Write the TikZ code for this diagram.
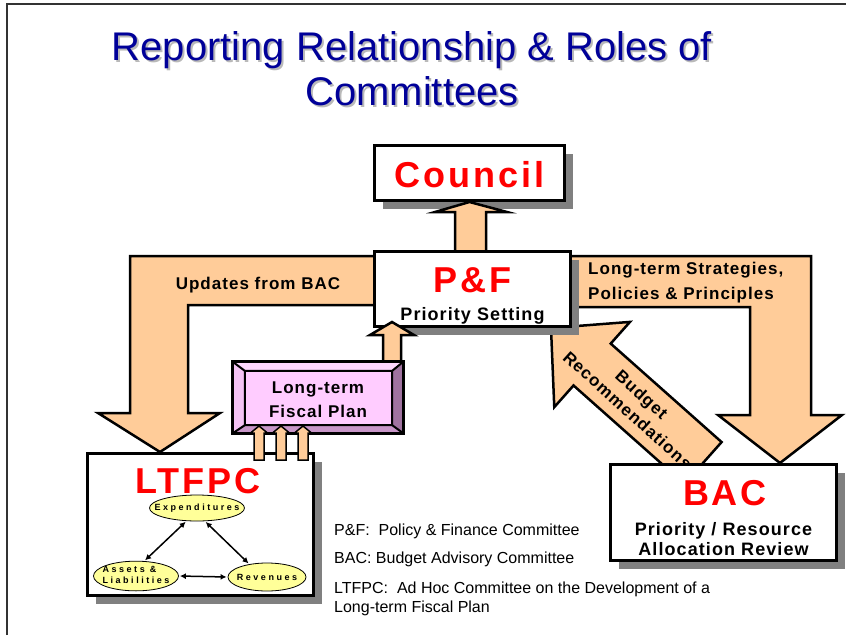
\documentclass[tikz,border=0pt]{standalone}
\usepackage{fontspec}
\setmainfont{Liberation Sans}
\usetikzlibrary{calc,shapes.geometric,shadows,arrows.meta}
\pgfdeclarelayer{back}
\pgfsetlayers{back,main}
\definecolor{peach}{RGB}{255,204,153}
\definecolor{titleblue}{RGB}{0,0,153}
\definecolor{bevelface}{RGB}{255,204,255}
\definecolor{beveltop}{RGB}{255,215,255}
\definecolor{bevelleft}{RGB}{245,195,245}
\definecolor{bevelright}{RGB}{160,115,160}
\definecolor{bevelbottom}{RGB}{200,150,200}
\definecolor{topicfill}{RGB}{255,255,153}
\tikzset{
  blockarrow/.style={draw=black,fill=peach,line width=2.5pt,line join=miter},
  committee/.style={draw=black,fill=white,line width=3pt,inner sep=0pt,
    drop shadow={shadow xshift=8pt,shadow yshift=-8pt,fill=gray,opacity=1}},
  headline/.style={inner sep=0pt,align=center,text=titleblue,font=\fontsize{40}{45}\selectfont},
  bigname/.style={inner sep=0pt,text=red,font=\bfseries\fontsize{36}{36}\selectfont\addfontfeature{LetterSpace=8}},
  rolename/.style={inner sep=0pt,align=center,font=\bfseries\fontsize{18}{20}\selectfont\addfontfeature{LetterSpace=6}},
  arrowtext/.style={inner sep=0pt,font=\bfseries\fontsize{17}{25}\selectfont\addfontfeature{LetterSpace=6}},
  topic/.style={ellipse,draw=black,fill=topicfill,line width=0.8pt,inner sep=0pt,
    font=\bfseries\fontsize{9}{10.5}\selectfont\addfontfeature{LetterSpace=28}},
  link/.style={{Latex[length=6pt,width=6pt]}-{Latex[length=6pt,width=6pt]},line width=1.5pt,shorten >=1pt,shorten <=1pt},
  legend/.style={inner sep=0pt,anchor=base west,align=left,font=\fontsize{16}{19}\selectfont}
}
\begin{document}
\begin{tikzpicture}[x=1pt,y=-1pt]
  \useasboundingbox (0,0) rectangle (846,635);
  \draw[black!80,line width=1.2pt] (7,635) -- (7,4) -- (846,4);
  % title (anchor base = last line)
  \node[headline,text=gray!55,anchor=base] (titleshadow) at (414,107) {Reporting Relationship \& Roles of\\Committees};
  \node[headline,anchor=base] (title) at (412,105) {Reporting Relationship \& Roles of\\Committees};
  % committee boxes
  \node[committee,minimum width=190pt,minimum height=55pt] (council) at (469.5,173) {};
  \draw[blockarrow] (455,251) -- (455,212) -- (435,212) -- (council.south) -- (507,212) -- (486,212) -- (486,251);
  \node[committee,minimum width=196pt,minimum height=75pt] (pf) at (472.5,289) {};
  \node[committee,minimum width=226pt,minimum height=142pt] (ltfpc) at (200.5,524.5) {};
  \node[committee,minimum width=226pt,minimum height=96pt] (bac) at (723.5,512.5) {};
  % big arrows behind the boxes
  \begin{pgfonlayer}{back}
    \draw[blockarrow] (pf.west |- 0,256) -- (130,256) -- (130,413) -- (98,413) -- (160,0 |- ltfpc.north)
      -- (220,413) -- (188,413) -- (188,305) -- (pf.west |- 0,305);
    \node[arrowtext,anchor=base] (updates) at (258,289) {Updates from BAC};
    \draw[blockarrow] (pf.east |- 0,256) -- (811,256) -- (811,415) -- (842,415) -- (780,0 |- bac.north)
      -- (718,415) -- (750,415) -- (750,307) -- (pf.east |- 0,307);
    \node[arrowtext,anchor=base west,align=left] (strategies) at (588,299) {Long-term Strategies,\\Policies \& Principles};
    \coordinate (budgettip) at ($(pf.south east)+(-21,0)$);
    \coordinate (budgettail) at ($(bac.north west)+(94,0)$);
    \coordinate (budgetneck) at ($(budgettip)!55pt!(budgettail)$);
    \draw[blockarrow] ($(budgettail)!28pt!90:(budgettip)$) -- ($(budgetneck)!28pt!90:(budgettip)$)
      -- ($(budgetneck)!57pt!90:(budgettip)$) -- (budgettip) -- ($(budgetneck)!57pt!-90:(budgettip)$)
      -- ($(budgetneck)!28pt!-90:(budgettip)$) -- ($(budgettail)!28pt!-90:(budgettip)$) -- cycle;
    \node[arrowtext,rotate=-42,align=center,font=\bfseries\fontsize{17}{21}\selectfont\addfontfeature{LetterSpace=6}]
      (budgettext) at ($(budgettip)!112pt!(budgettail)$) {Budget\\Recommendations};
  \end{pgfonlayer}
  % fiscal plan
  \node[minimum width=170pt,minimum height=71pt,inner sep=0pt] (fiscal) at (318,397.5) {};
  \draw[blockarrow] (383,0 |- fiscal.north) -- (383,335) -- (370,335) -- (392,322) -- (414,335) -- (401,335) -- (401,0 |- fiscal.north);
  \coordinate (fnw) at ($(fiscal.north west)+(12,9)$);
  \coordinate (fne) at ($(fiscal.north east)+(-11,9)$);
  \coordinate (fse) at ($(fiscal.south east)+(-11,-8)$);
  \coordinate (fsw) at ($(fiscal.south west)+(12,-8)$);
  \fill[beveltop] (fiscal.north west) -- (fiscal.north east) -- (fne) -- (fnw) -- cycle;
  \fill[bevelright] (fiscal.north east) -- (fiscal.south east) -- (fse) -- (fne) -- cycle;
  \fill[bevelbottom] (fiscal.south east) -- (fiscal.south west) -- (fsw) -- (fse) -- cycle;
  \fill[bevelleft] (fiscal.south west) -- (fiscal.north west) -- (fnw) -- (fsw) -- cycle;
  \fill[bevelface] (fnw) rectangle (fse);
  \draw[line width=2pt] (fnw) rectangle (fse) (fiscal.north west) -- (fnw) (fiscal.north east) -- (fne)
    (fiscal.south east) -- (fse) (fiscal.south west) -- (fsw);
  \draw[line width=3pt] (fiscal.north west) rectangle (fiscal.south east);
  \node[arrowtext,align=center,anchor=base,font=\bfseries\fontsize{17}{24}\selectfont\addfontfeature{LetterSpace=6}]
    (fiscaltext) at (318,417) {Long-term\\Fiscal Plan};
  \foreach \x in {259,281,303}
    \draw[blockarrow,line width=1.5pt] (\x-5,460) -- (\x-5,433) -- (\x-8.5,433) -- (\x,426) -- (\x+8.5,433) -- (\x+5,433) -- (\x+5,460) -- cycle;
  % names and roles
  \node[bigname,anchor=base] (counciltext) at (469.5,187) {Council};
  \node[bigname,anchor=base] (pftext) at (472.5,292) {P\&F};
  \node[rolename,anchor=base] (pfrole) at (472.5,320) {Priority Setting};
  \node[bigname,anchor=base] (ltfpctext) at (198,493) {LTFPC};
  \node[bigname,anchor=base] (bactext) at (725,505) {BAC};
  \node[rolename,anchor=base] (bacrole) at (723.5,555) {Priority / Resource\\Allocation Review};
  % inside LTFPC
  \node[topic,minimum width=95pt,minimum height=26pt] (exp) at (197,508) {\makebox[0pt]{Expenditures}};
  \node[topic,minimum width=85pt,minimum height=28pt] (assets) at (136,576)
    {\makebox[0pt]{\begin{tabular}{@{}l@{}}Assets \&\\Liabilities\end{tabular}}};
  \node[topic,minimum width=78pt,minimum height=28pt] (rev) at (267,577) {\makebox[0pt]{Revenues}};
  \draw[link] (exp.231) -- (assets.61);
  \draw[link] (exp.301) -- (rev.144);
  \draw[link] (assets.east) -- (rev.west);
  % legend
  \node[legend] (legendpf) at (334,535) {P\&F:\ \ Policy \& Finance Committee};
  \node[legend] (legendbac) at (334,563) {BAC: Budget Advisory Committee};
  \node[legend] (legendltfpc) at (334,612) {LTFPC:\ \ Ad Hoc Committee on the Development of a\\Long-term Fiscal Plan};
\end{tikzpicture}
\end{document}
